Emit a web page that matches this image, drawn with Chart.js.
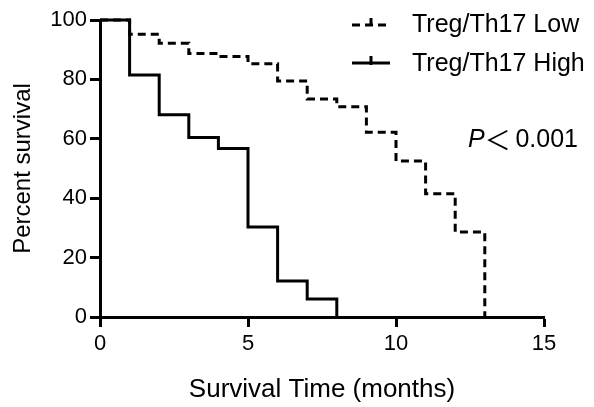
<!DOCTYPE html>
<html>
<head>
<meta charset="utf-8">
<script src="https://cdn.jsdelivr.net/npm/chart.js@4"></script>
<style>
  html, body { margin: 0; padding: 0; background: #fff; }
  #wrap { width: 594px; height: 407px; position: relative; }
</style>
</head>
<body>
<div id="wrap"><canvas id="c"></canvas></div>
<script>
// ---- data ----
const lowTimes = [0, 1, 2, 3, 4, 5, 6, 7, 8, 9, 10, 11, 12, 13];
const lowSurvival = [100, 95.2, 92.2, 88.7, 87.7, 85.3, 79.5, 73.4, 70.8, 62.2, 52.5, 41.5, 28.6, 0];
const highTimes = [0, 1, 2, 3, 4, 5, 6, 7, 8];
const highSurvival = [100, 81.5, 68.1, 60.4, 56.7, 30.3, 12.1, 6.1, 0];
const seriesLabels = ['Treg/Th17 Low', 'Treg/Th17 High'];
const xTicks = [0, 5, 10, 15];
const yTicks = [0, 20, 40, 60, 80, 100];
const pText = ['P', '\uFF1C', '0.001'];

const FONT = "'Liberation Sans', Arial, sans-serif";

const toPts = (xs, ys) => xs.map((x, i) => ({ x: x, y: ys[i] }));

const legendPlugin = {
  id: 'kmLegend',
  afterDraw(chart) {
    const ctx = chart.ctx;
    ctx.save();
    ctx.strokeStyle = '#000';
    ctx.fillStyle = '#000';
    ctx.lineWidth = 3;
    // Low sample (dashed with censor tick)
    const x0 = 352, x1 = 390;
    let y = 25;
    ctx.setLineDash([8, 5]);
    ctx.beginPath(); ctx.moveTo(x0, y); ctx.lineTo(x1, y); ctx.stroke();
    ctx.setLineDash([]);
    ctx.beginPath(); ctx.moveTo(371, y - 7); ctx.lineTo(371, y); ctx.stroke();
    // High sample (solid with censor tick)
    y = 63;
    ctx.beginPath(); ctx.moveTo(x0, y); ctx.lineTo(x1, y); ctx.stroke();
    ctx.beginPath(); ctx.moveTo(371, y - 7); ctx.lineTo(371, y + 2); ctx.stroke();
    // Legend text
    ctx.font = '25px ' + FONT;
    ctx.textBaseline = 'middle';
    ctx.textAlign = 'left';
    ctx.fillText(seriesLabels[0], 412, 25);
    ctx.fillText(seriesLabels[1], 412, 64);
    // P value
    ctx.font = 'italic 25px ' + FONT;
    ctx.fillText(pText[0], 468, 140);
    const w = ctx.measureText(pText[0]).width;
    ctx.font = "26px 'Noto Sans CJK SC', sans-serif";
    ctx.fillText(pText[1], 468 + w, 140);
    ctx.font = '25px ' + FONT;
    ctx.textAlign = 'right';
    ctx.fillText(pText[2], 578, 140);
    ctx.restore();
  }
};

new Chart(document.getElementById('c'), {
  type: 'line',
  data: {
    datasets: [
      {
        label: seriesLabels[0],
        data: toPts(lowTimes, lowSurvival),
        borderColor: '#000',
        borderWidth: 3,
        borderDash: [8, 5],
        stepped: true,
        pointRadius: 0,
        fill: false,
        clip: false
      },
      {
        label: seriesLabels[1],
        data: toPts(highTimes, highSurvival),
        borderColor: '#000',
        borderWidth: 3,
        stepped: true,
        pointRadius: 0,
        fill: false,
        clip: false
      }
    ]
  },
  options: {
    responsive: true,
    maintainAspectRatio: false,
    animation: false,
    devicePixelRatio: 1,
    layout: { padding: { top: 20, right: 50, left: 0, bottom: 0 } },
    plugins: { legend: { display: false }, tooltip: { enabled: false } },
    scales: {
      x: {
        type: 'linear',
        min: 0, max: 15,
        afterFit(s) { s.height = 90; },
        afterBuildTicks(s) { s.ticks = xTicks.map(v => ({ value: v })); },
        grid: { drawOnChartArea: false, drawTicks: true, tickLength: 10, tickWidth: 3, tickColor: '#000' },
        border: { display: true, width: 3, color: '#000' },
        ticks: { color: '#000', padding: 4, maxRotation: 0, font: { family: FONT, size: 22 } },
        title: { display: true, text: 'Survival Time (months)', color: '#000',
                 font: { family: FONT, size: 26 }, padding: { top: 0, bottom: 2 } }
      },
      y: {
        min: 0, max: 100,
        afterFit(s) { s.width = 100; },
        afterBuildTicks(s) { s.ticks = yTicks.map(v => ({ value: v })); },
        grid: { drawOnChartArea: false, drawTicks: true, tickLength: 10, tickWidth: 3, tickColor: '#000' },
        border: { display: true, width: 3, color: '#000' },
        ticks: { color: '#000', padding: 3, font: { family: FONT, size: 22 } },
        title: { display: true, text: 'Percent survival', color: '#000',
                 font: { family: FONT, size: 24 }, padding: { top: 9, bottom: 0 } }
      }
    }
  },
  plugins: [legendPlugin]
});
</script>
</body>
</html>
